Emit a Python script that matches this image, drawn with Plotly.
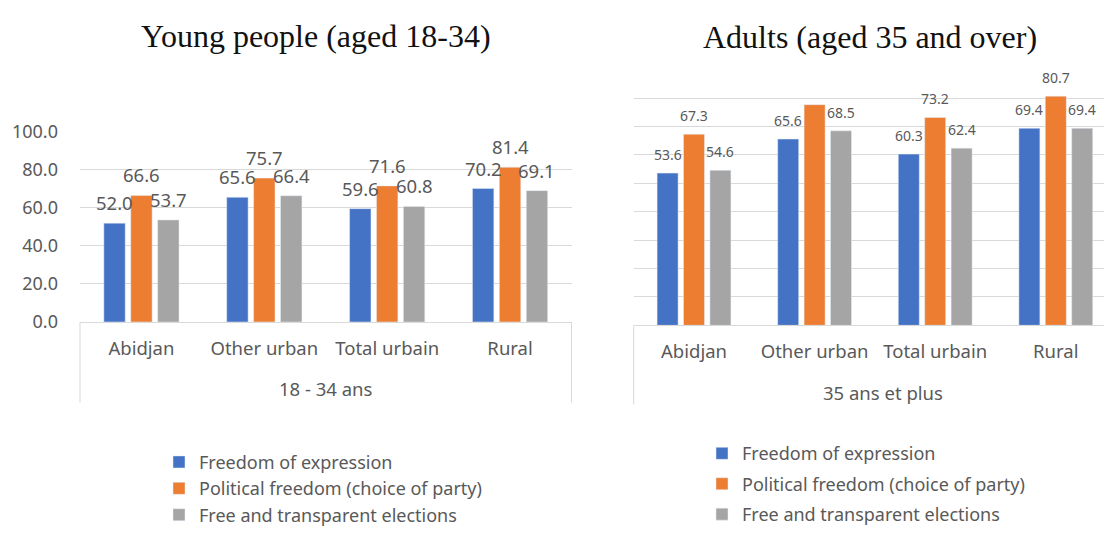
import plotly.graph_objects as go

# ---------------- data ----------------
categories = ["Abidjan", "Other urban", "Total urbain", "Rural"]
series_names = ["Freedom of expression",
                "Political freedom (choice of party)",
                "Free and transparent elections"]
colors = ["#4472C4", "#ED7D31", "#A5A5A5"]

young_expression = [52.0, 65.6, 59.6, 70.2]
young_political = [66.6, 75.7, 71.6, 81.4]
young_elections = [53.7, 66.4, 60.8, 69.1]

adult_expression = [53.6, 65.6, 60.3, 69.4]
adult_political = [67.3, 77.7, 73.2, 80.7]
adult_elections = [54.6, 68.5, 62.4, 69.4]
# labels that are not printed in the source chart: (series index, category index)
adult_hidden_labels = [(1, 1)]

young_ticks = [0, 20, 40, 60, 80, 100]
left_group_label = "18 - 34 ans"
right_group_label = "35 ans et plus"
left_title = "Young people (aged 18-34)"
right_title = "Adults (aged 35 and over)"

# ---------------- layout constants ----------------
W, H = 1104, 534
FONT = "Noto Sans, Open Sans, sans-serif"
SERIF = "Liberation Serif, Times New Roman, serif"
TXT = "#595959"
GRID = "#D9D9D9"
BARGAP = 0.343
BARGROUPGAP = 0.205

# pixel geometry of plot areas
L_x0, L_x1 = 80.0, 571.5
L_y0, L_y1 = 323.5, 124.5          # y px of value 0 and of range top
R_x0, R_x1 = 633.7, 1104.0
R_cat = 120.6                       # px per category on the right panel
R_y0, R_y1 = 327.0, 59.3

def px(v):
    return v / W

def py(v):
    return 1 - v / H

young = [young_expression, young_political, young_elections]
adult = [adult_expression, adult_political, adult_elections]

fig = go.Figure()
for i, (name, col) in enumerate(zip(series_names, colors)):
    fig.add_trace(go.Bar(x=categories, y=young[i], name=name, marker_color=col,
                         xaxis="x", yaxis="y", legend="legend",
                         legendgroup="l%d" % i))
for i, (name, col) in enumerate(zip(series_names, colors)):
    fig.add_trace(go.Bar(x=categories, y=adult[i], name=name, marker_color=col,
                         xaxis="x2", yaxis="y2", legend="legend2",
                         legendgroup="r%d" % i))

# data labels as annotations anchored on the data values
annotations = []
L_cat = (L_x1 - L_x0) / len(categories)
L_slot = L_cat * (1 - BARGAP) / 3
R_slot = R_cat * (1 - BARGAP) / 3
for i in range(3):
    for j, c in enumerate(categories):
        annotations.append(dict(x=c, y=young[i][j], xref="x", yref="y",
                                text="%.1f" % young[i][j], showarrow=False,
                                xanchor="center", yanchor="bottom",
                                xshift=(i - 1) * L_slot, yshift=6,
                                font=dict(family=FONT, size=18.5, color=TXT)))
        if (i, j) in adult_hidden_labels:
            continue
        annotations.append(dict(x=c, y=adult[i][j], xref="x2", yref="y2",
                                text="%.1f" % adult[i][j], showarrow=False,
                                xanchor="center", yanchor="bottom",
                                xshift=(i - 1) * R_slot, yshift=7,
                                font=dict(family=FONT, size=14, color=TXT)))

# group labels under the category axis
annotations.append(dict(x=0.5, y=py(393), xref="x domain", yref="paper",
                        xanchor="center", yanchor="middle",
                        text=left_group_label, showarrow=False,
                        font=dict(family=FONT, size=18.5, color=TXT)))
annotations.append(dict(x=px(883), y=py(397), xref="paper", yref="paper",
                        xanchor="center", yanchor="middle",
                        text=right_group_label, showarrow=False,
                        font=dict(family=FONT, size=18.5, color=TXT)))
# titles
annotations.append(dict(x=px(316), y=py(24), xref="paper", yref="paper",
                        xanchor="center", yanchor="middle",
                        text=left_title, showarrow=False,
                        font=dict(family=SERIF, size=32, color="#111111")))
annotations.append(dict(x=px(870), y=py(25), xref="paper", yref="paper",
                        xanchor="center", yanchor="middle",
                        text=right_title, showarrow=False,
                        font=dict(family=SERIF, size=32, color="#111111")))

# axis box lines below plots
shapes = [
    dict(type="line", xref="paper", yref="paper", x0=px(L_x0), x1=px(L_x0),
         y0=py(L_y0), y1=py(408), line=dict(color=GRID, width=1)),
    dict(type="line", xref="paper", yref="paper", x0=px(L_x1), x1=px(L_x1),
         y0=py(L_y0), y1=py(408), line=dict(color=GRID, width=1)),
    dict(type="line", xref="paper", yref="paper", x0=px(R_x0), x1=px(R_x0),
         y0=py(R_y0), y1=py(410), line=dict(color=GRID, width=1)),
]

R_range_end = -0.5 + (R_x1 - R_x0) / R_cat

fig.update_layout(
    width=W, height=H, margin=dict(l=0, r=0, t=0, b=0),
    paper_bgcolor="white", plot_bgcolor="white",
    barmode="group", bargap=BARGAP, bargroupgap=BARGROUPGAP,
    font=dict(family=FONT, color=TXT),
    xaxis=dict(domain=[px(L_x0), px(L_x1)], anchor="y", type="category",
               showline=True, linecolor=GRID, linewidth=1, ticks="",
               tickfont=dict(size=18.5, color=TXT), ticklabelstandoff=10,
               showgrid=False),
    yaxis=dict(domain=[py(L_y0), py(L_y1)], anchor="x", range=[0, 100],
               tickvals=young_ticks, tickformat=".1f", showgrid=True,
               gridcolor=GRID, gridwidth=1, zeroline=False, showline=False,
               tickfont=dict(size=18, color=TXT), ticklabelstandoff=21),
    xaxis2=dict(domain=[px(R_x0), 1.0], anchor="y2", type="category",
                range=[-0.5, R_range_end],
                showline=True, linecolor=GRID, linewidth=1, ticks="",
                tickfont=dict(size=18.5, color=TXT), ticklabelstandoff=9,
                showgrid=False),
    yaxis2=dict(domain=[py(R_y0), py(R_y1)], anchor="x2", range=[0, 90.05],
                dtick=10, showgrid=True, gridcolor=GRID, gridwidth=1,
                zeroline=False, showline=False, showticklabels=False),
    legend=dict(x=px(159), y=py(451), xanchor="left", yanchor="top",
                font=dict(size=18, color=TXT, family=FONT),
                tracegroupgap=0, bgcolor="rgba(0,0,0,0)"),
    legend2=dict(x=px(702), y=py(442), xanchor="left", yanchor="top",
                 font=dict(size=18, color=TXT, family=FONT),
                 tracegroupgap=4, bgcolor="rgba(0,0,0,0)"),
    annotations=annotations, shapes=shapes,
)

fig.write_html("out.html")
